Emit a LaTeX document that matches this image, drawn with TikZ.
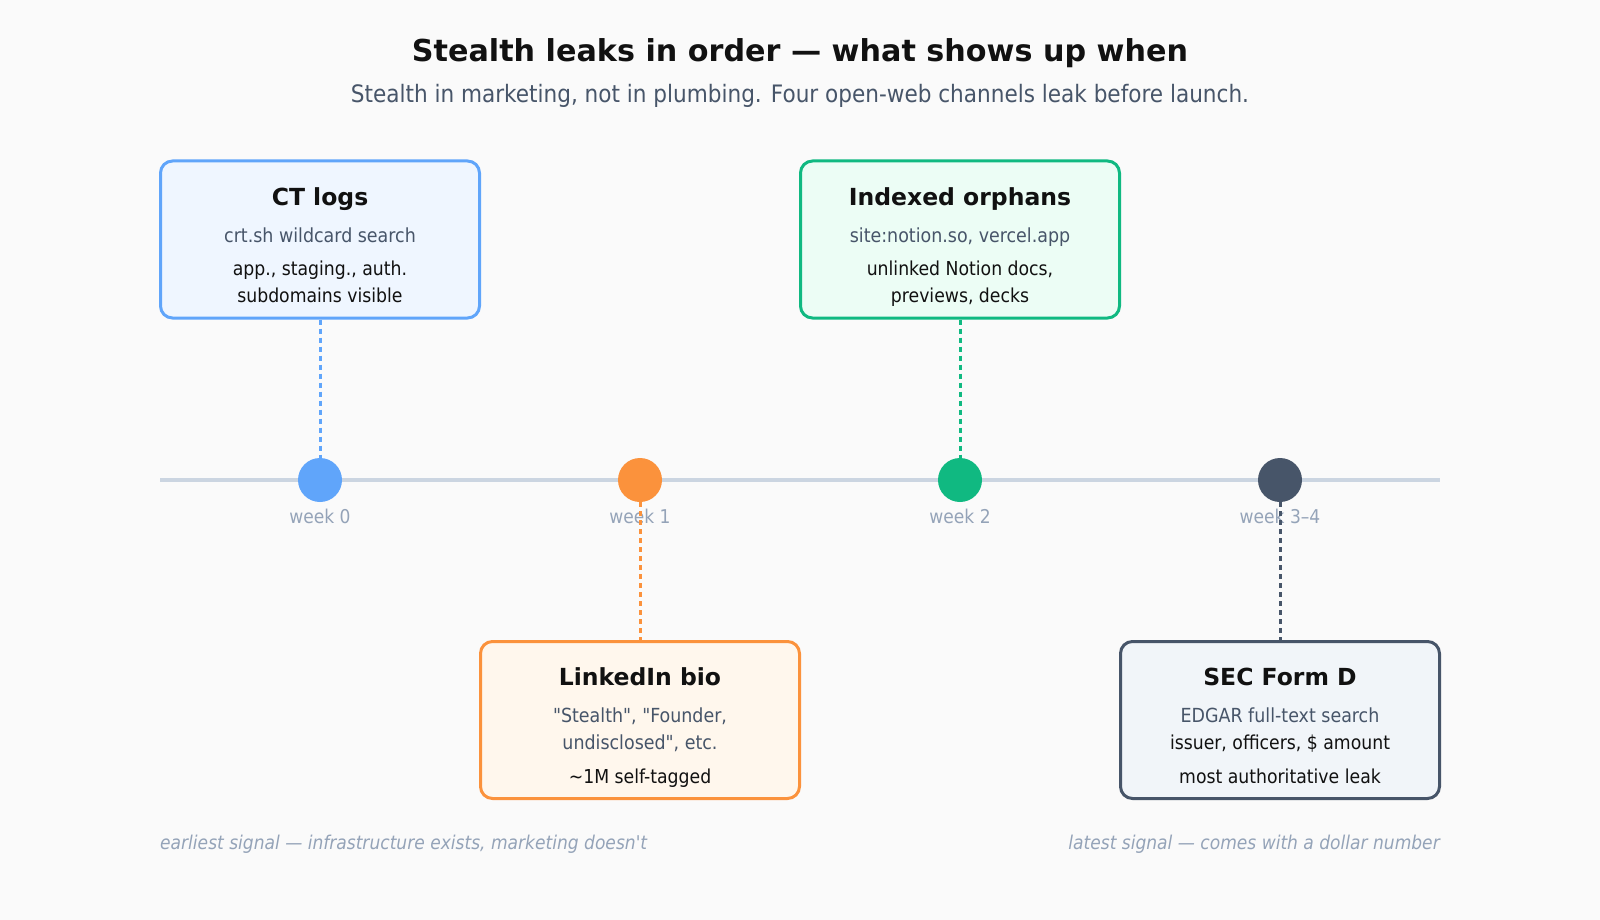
\documentclass[tikz,border=0pt]{standalone}
\usepackage{fontspec}
\setmainfont{DejaVu Sans Condensed}[Ligatures=TeXOff]
\newfontfamily\widefont{DejaVu Sans}[Ligatures=TeXOff]
\definecolor{bgc}{HTML}{FAFAFA}
\definecolor{titlec}{HTML}{111111}
\definecolor{subc}{HTML}{475569}
\definecolor{mutec}{HTML}{94A3B8}
\definecolor{linec}{HTML}{CBD5E1}
\definecolor{blueS}{HTML}{60A5FA}
\definecolor{blueF}{HTML}{EFF6FF}
\definecolor{greenS}{HTML}{10B981}
\definecolor{greenF}{HTML}{ECFDF5}
\definecolor{orangeS}{HTML}{FB923C}
\definecolor{orangeF}{HTML}{FFF7ED}
\definecolor{slateS}{HTML}{475569}
\definecolor{slateF}{HTML}{F1F5F9}
\tikzset{
  card/.style={rounded corners=12pt, line width=3pt, minimum width=319pt, minimum height=157pt, inner sep=0pt},
  cardtitle/.style={anchor=base, inner sep=0pt, text=titlec, font=\widefont\fontsize{23.5}{28}\selectfont\bfseries},
  cardsub/.style={anchor=base, inner sep=0pt, text=subc, font=\fontsize{19.4}{23}\selectfont},
  carddet/.style={anchor=base, inner sep=0pt, text=titlec, font=\fontsize{19.2}{23}\selectfont},
  weeklbl/.style={anchor=base, inner sep=0pt, text=mutec, font=\fontsize{19}{23}\selectfont},
  dot/.style={circle, inner sep=0pt, minimum size=44pt},
  conn/.style={line width=3pt, dash pattern=on 5pt off 4pt},
  caption/.style={inner sep=0pt, text=mutec, font=\fontsize{19}{23}\selectfont\itshape},
}
\begin{document}
\begin{tikzpicture}[x=1pt,y=-1pt]
\fill[bgc] (0,0) rectangle (1600,920);
\useasboundingbox (0,0) rectangle (1600,920);

\node[anchor=base, inner sep=0pt, text=titlec, font=\widefont\fontsize{30.2}{36}\selectfont\bfseries] (title) at (800,62) {Stealth leaks in order — what shows up when};
\node[anchor=base, inner sep=0pt, text=subc, font=\fontsize{24}{28}\selectfont] (subtitle) at (800,103) {Stealth in marketing, not in plumbing. Four open-web channels leak before launch.};

% timeline
\coordinate (tl0) at (160,480);
\coordinate (tl1) at (1440,480);
\draw[linec, line width=4pt] (tl0) -- (tl1);

% cards
\node[card, draw=blueS, fill=blueF] (ct) at (320,239.5) {};
\node[card, draw=greenS, fill=greenF] (io) at (960,239.5) {};
\node[card, draw=orangeS, fill=orangeF] (li) at (640,720) {};
\node[card, draw=slateS, fill=slateF] (sec) at (1280,720) {};

% card texts
\node[cardtitle] (ctT) at (320,205) {CT logs};
\node[cardsub] (ctS) at (320,242) {crt.sh wildcard search};
\node[carddet] (ctD1) at (320,275) {app., staging., auth.};
\node[carddet] (ctD2) at (320,302) {subdomains visible};

\node[cardtitle] (ioT) at (960,205) {Indexed orphans};
\node[cardsub] (ioS) at (960,242) {site:notion.so, vercel.app};
\node[carddet] (ioD1) at (960,275) {unlinked Notion docs,};
\node[carddet] (ioD2) at (960,302) {previews, decks};

\node[cardtitle] (liT) at (640,685) {LinkedIn bio};
\node[cardsub] (liS1) at (640,722) {"Stealth", "Founder,};
\node[cardsub] (liS2) at (640,749) {undisclosed", etc.};
\node[carddet] (liD) at (640,783) {\symbol{"7E}1M self-tagged};

\node[cardtitle] (secT) at (1280,685) {SEC Form D};
\node[cardsub] (secS) at (1280,722) {EDGAR full-text search};
\node[carddet] (secD1) at (1280,749) {issuer, officers, \$ amount};
\node[carddet] (secD2) at (1280,783) {most authoritative leak};

% week labels
\node[weeklbl] (w0) at (320,523) {week 0};
\node[weeklbl] (w1) at (640,523) {week 1};
\node[weeklbl] (w2) at (960,523) {week 2};
\node[weeklbl] (w3) at (1280,523) {week 3–4};

% dots
\node[dot, fill=blueS] (d0) at (320,480) {};
\node[dot, fill=orangeS] (d1) at (640,480) {};
\node[dot, fill=greenS] (d2) at (960,480) {};
\node[dot, fill=slateS] (d3) at (1280,480) {};

% connectors
\draw[conn, blueS] (ct.south) -- (d0.north);
\draw[conn, greenS] (io.south) -- (d2.north);
\draw[conn, orangeS] (d1.south) -- (li.north);
\draw[conn, slateS] (d3.south) -- (sec.north);

% captions
\node[caption, anchor=base west] (capL) at (160,849) {earliest signal — infrastructure exists, marketing doesn't};
\node[caption, anchor=base east] (capR) at (1440,849) {latest signal — comes with a dollar number};
\end{tikzpicture}
\end{document}
